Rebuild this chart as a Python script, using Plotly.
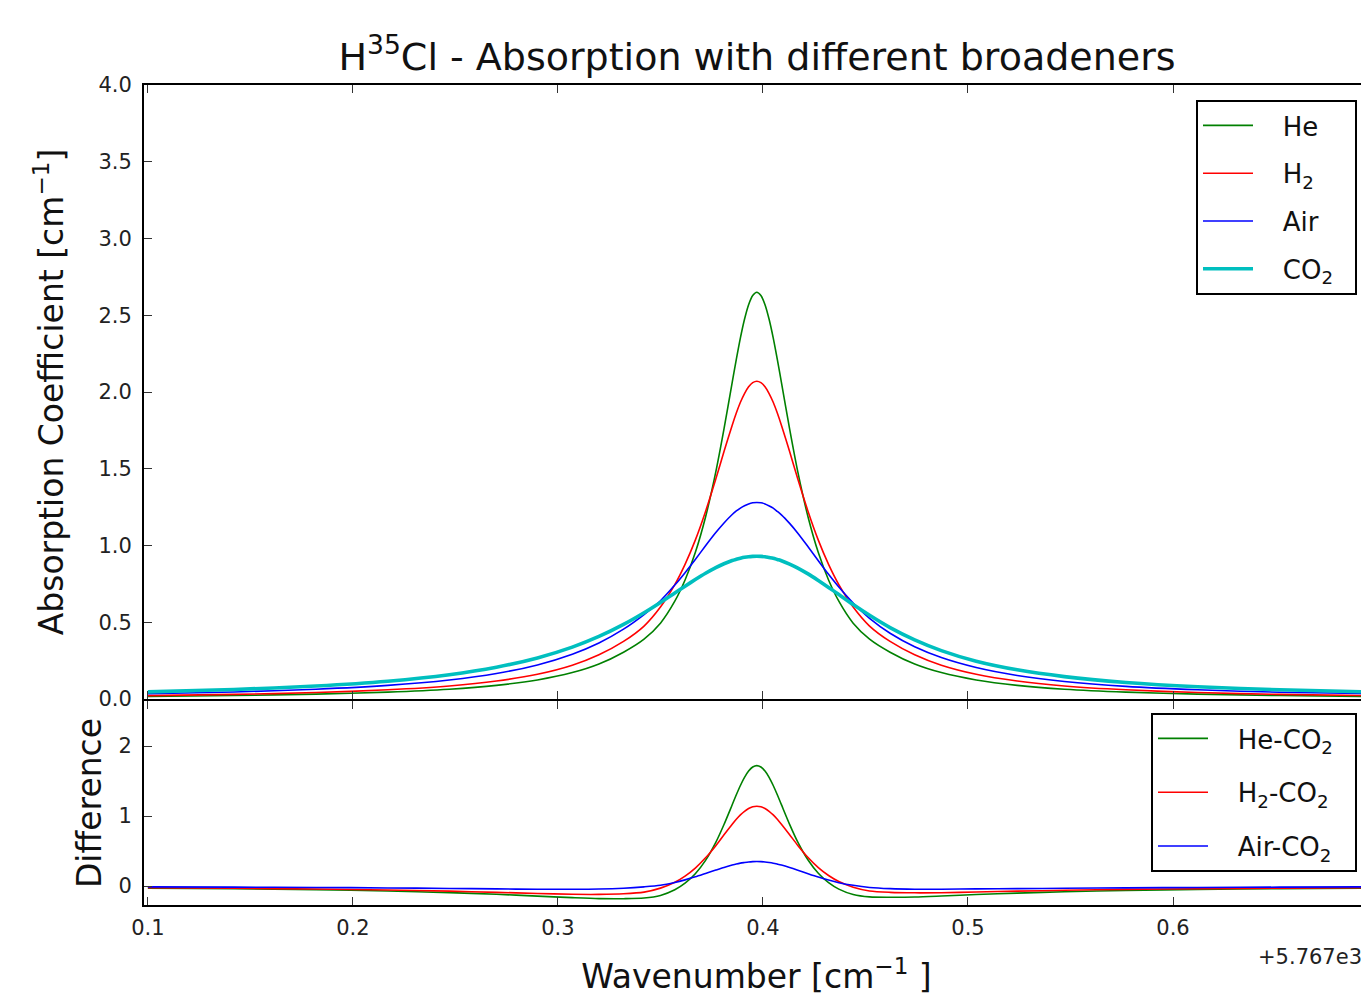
import numpy as np
import plotly.graph_objects as go

# ---------------- data ----------------
OFFSET_LABEL = "+5.767e3"   # x values are offsets from 5767 cm^-1

wavenumber = [0.100, 0.142, 0.182, 0.217, 0.247, 0.270, 0.290, 0.307, 0.320, 0.332,
              0.342, 0.350, 0.357, 0.362, 0.367, 0.372, 0.377, 0.381, 0.385, 0.387,
              0.389, 0.391, 0.393, 0.395, 0.397, 0.399, 0.401, 0.403, 0.405, 0.407,
              0.409, 0.413, 0.417, 0.422, 0.427, 0.432, 0.437, 0.444, 0.452, 0.462,
              0.474, 0.487, 0.504, 0.524, 0.547, 0.577, 0.612, 0.652, 0.700]

he = [0.0165, 0.0225, 0.032, 0.045, 0.064, 0.089, 0.124, 0.172, 0.228, 0.305,
      0.390, 0.494, 0.637, 0.775, 0.954, 1.186, 1.480, 1.760, 2.063, 2.213,
      2.353, 2.474, 2.569, 2.629, 2.650, 2.629, 2.569, 2.474, 2.353, 2.213,
      2.063, 1.760, 1.480, 1.186, 0.954, 0.775, 0.637, 0.494, 0.390, 0.305,
      0.228, 0.172, 0.124, 0.089, 0.064, 0.045, 0.032, 0.0225, 0.016]

h2 = [0.022, 0.030, 0.042, 0.060, 0.085, 0.117, 0.161, 0.220, 0.288, 0.375,
      0.475, 0.599, 0.745, 0.877, 1.035, 1.222, 1.433, 1.612, 1.784, 1.863,
      1.933, 1.990, 2.034, 2.061, 2.070, 2.061, 2.034, 1.990, 1.933, 1.863,
      1.784, 1.612, 1.433, 1.222, 1.035, 0.877, 0.745, 0.599, 0.475, 0.375,
      0.288, 0.220, 0.161, 0.117, 0.085, 0.060, 0.042, 0.030, 0.021]

air = [0.034, 0.046, 0.064, 0.089, 0.124, 0.166, 0.222, 0.292, 0.365, 0.455,
       0.550, 0.640, 0.742, 0.823, 0.909, 0.998, 1.084, 1.147, 1.202, 1.225,
       1.244, 1.259, 1.271, 1.278, 1.280, 1.278, 1.271, 1.258, 1.243, 1.222,
       1.200, 1.144, 1.080, 0.992, 0.901, 0.812, 0.729, 0.625, 0.525, 0.428,
       0.340, 0.270, 0.205, 0.153, 0.114, 0.082, 0.060, 0.044, 0.034]

co2 = [0.0463, 0.0617, 0.0846, 0.1161, 0.1585, 0.2072, 0.2676, 0.338, 0.4075, 0.486,
       0.562, 0.629, 0.691, 0.735, 0.778, 0.819, 0.856, 0.881, 0.902, 0.910,
       0.917, 0.923, 0.927, 0.929, 0.930, 0.929, 0.927, 0.922, 0.917, 0.909,
       0.901, 0.879, 0.853, 0.815, 0.772, 0.727, 0.681, 0.615, 0.545, 0.465,
       0.385, 0.315, 0.246, 0.190, 0.146, 0.108, 0.080, 0.060, 0.045]

series_names = ["He", "H<sub>2</sub>", "Air", "CO<sub>2</sub>"]
diff_names = ["He-CO<sub>2</sub>", "H<sub>2</sub>-CO<sub>2</sub>", "Air-CO<sub>2</sub>"]
top_ticks = [0.0, 0.5, 1.0, 1.5, 2.0, 2.5, 3.0, 3.5, 4.0]
bottom_ticks = [0, 1, 2]
x_ticks = [0.1, 0.2, 0.3, 0.4, 0.5, 0.6]

# ---------------- styling ----------------
COLORS = ["#008000", "#FF0000", "#0000FF", "#00BFBF"]
WIDTHS = [1.6, 1.6, 1.6, 3.6]
FONT = "DejaVu Sans"
TICK_FONT = dict(family=FONT, size=21, color="#222222")
TITLE_FONT = dict(family=FONT, size=33, color="#111111")
PAD = "\u00a0\u00a0\u00a0"
TAIL = "\u00a0\u00a0"

OFF = 8                      # page body margin
W, H = 1369 - OFF, 998 - OFF


def px_x(p):
    return (p - OFF) / W


def px_y(p):
    return 1 - (p - OFF) / H


x_dom = [px_x(144), 1.0]
top_dom = [px_y(699), px_y(85)]
bot_dom = [px_y(905), px_y(701)]
x_range = [0.0981, 0.6956]

fig = go.Figure()

x = np.array(wavenumber)
series = [np.array(he), np.array(h2), np.array(air), np.array(co2)]
for i, (name, ys) in enumerate(zip(series_names, series)):
    fig.add_trace(go.Scatter(
        x=x, y=ys, mode="lines", name=PAD + name + TAIL,
        line=dict(color=COLORS[i], width=WIDTHS[i], shape="spline", smoothing=0.8),
        xaxis="x", yaxis="y", legend="legend", legendgroup=f"a{i}"))

for i, name in enumerate(diff_names):
    fig.add_trace(go.Scatter(
        x=x, y=series[i] - series[3], mode="lines", name=PAD + name + TAIL,
        line=dict(color=COLORS[i], width=1.6, shape="spline", smoothing=0.8),
        xaxis="x2", yaxis="y2", legend="legend2", legendgroup=f"b{i}"))

# empty helper traces so the right-hand tick-only axes are drawn
fig.add_trace(go.Scatter(x=[None], y=[None], xaxis="x", yaxis="y3", showlegend=False, hoverinfo="skip"))
fig.add_trace(go.Scatter(x=[None], y=[None], xaxis="x2", yaxis="y4", showlegend=False, hoverinfo="skip"))

axis_common = dict(showgrid=False, zeroline=False, showline=True, linecolor="black", linewidth=2,
                   ticks="inside", ticklen=8, tickwidth=1, tickcolor="#333333", tickfont=TICK_FONT,
                   automargin=False)
right_ticks = dict(showticklabels=False, showgrid=False, zeroline=False, showline=False,
                   ticks="inside", ticklen=8, tickwidth=1, tickcolor="#333333", automargin=False)

legend_common = dict(xanchor="right", yanchor="top", bgcolor="white", bordercolor="black", borderwidth=2,
                     font=dict(family=FONT, size=26, color="#111111"), traceorder="grouped",
                     itemwidth=50)

fig.update_layout(
    template="none",
    width=W, height=H,
    margin=dict(l=0, r=0, t=0, b=0, autoexpand=False),
    paper_bgcolor="white", plot_bgcolor="white",
    font=dict(family=FONT, color="#222222"),
    title=dict(text="H<sup>35</sup>Cl - Absorption with different broadeners",
               font=dict(family=FONT, size=38, color="#111111"),
               x=px_x(757), xanchor="center", y=px_y(57), yanchor="middle", xref="paper", yref="container"),
    xaxis=dict(domain=x_dom, range=x_range, anchor="y", tickvals=x_ticks, showticklabels=False,
               mirror="ticks", **axis_common),
    yaxis=dict(domain=top_dom, range=[0, 4], anchor="x", tickvals=top_ticks, tickformat=".1f",
               ticklabelstandoff=6,
               title=dict(text="Absorption Coefficient [cm<sup>\u22121</sup>]", font=TITLE_FONT, standoff=25),
               **axis_common),
    yaxis3=dict(overlaying="y", side="right", range=[0, 4], anchor="x", tickvals=top_ticks, **right_ticks),
    xaxis2=dict(domain=x_dom, range=x_range, anchor="y2", tickvals=x_ticks, tickformat=".1f",
                mirror="ticks", ticklabelstandoff=3,
                title=dict(text="Wavenumber [cm<sup>\u22121</sup> ]", font=TITLE_FONT, standoff=26),
                **axis_common),
    yaxis2=dict(domain=bot_dom, range=[-0.271, 2.643], anchor="x2", tickvals=bottom_ticks,
                ticklabelstandoff=6,
                title=dict(text="Difference", font=TITLE_FONT, standoff=7),
                **axis_common),
    yaxis4=dict(overlaying="y2", side="right", range=[-0.271, 2.643], anchor="x2", tickvals=bottom_ticks,
                **right_ticks),
    legend=dict(x=px_x(1357), y=px_y(100), tracegroupgap=11, **legend_common),
    legend2=dict(x=px_x(1357), y=px_y(713), tracegroupgap=17, **legend_common),
    annotations=[dict(text=OFFSET_LABEL, xref="paper", yref="paper", x=1.0, xanchor="right",
                      xshift=-5, y=px_y(957), yanchor="middle", showarrow=False,
                      font=dict(family=FONT, size=21, color="#222222"))],
    showlegend=True,
)

fig.write_html("out.html")
